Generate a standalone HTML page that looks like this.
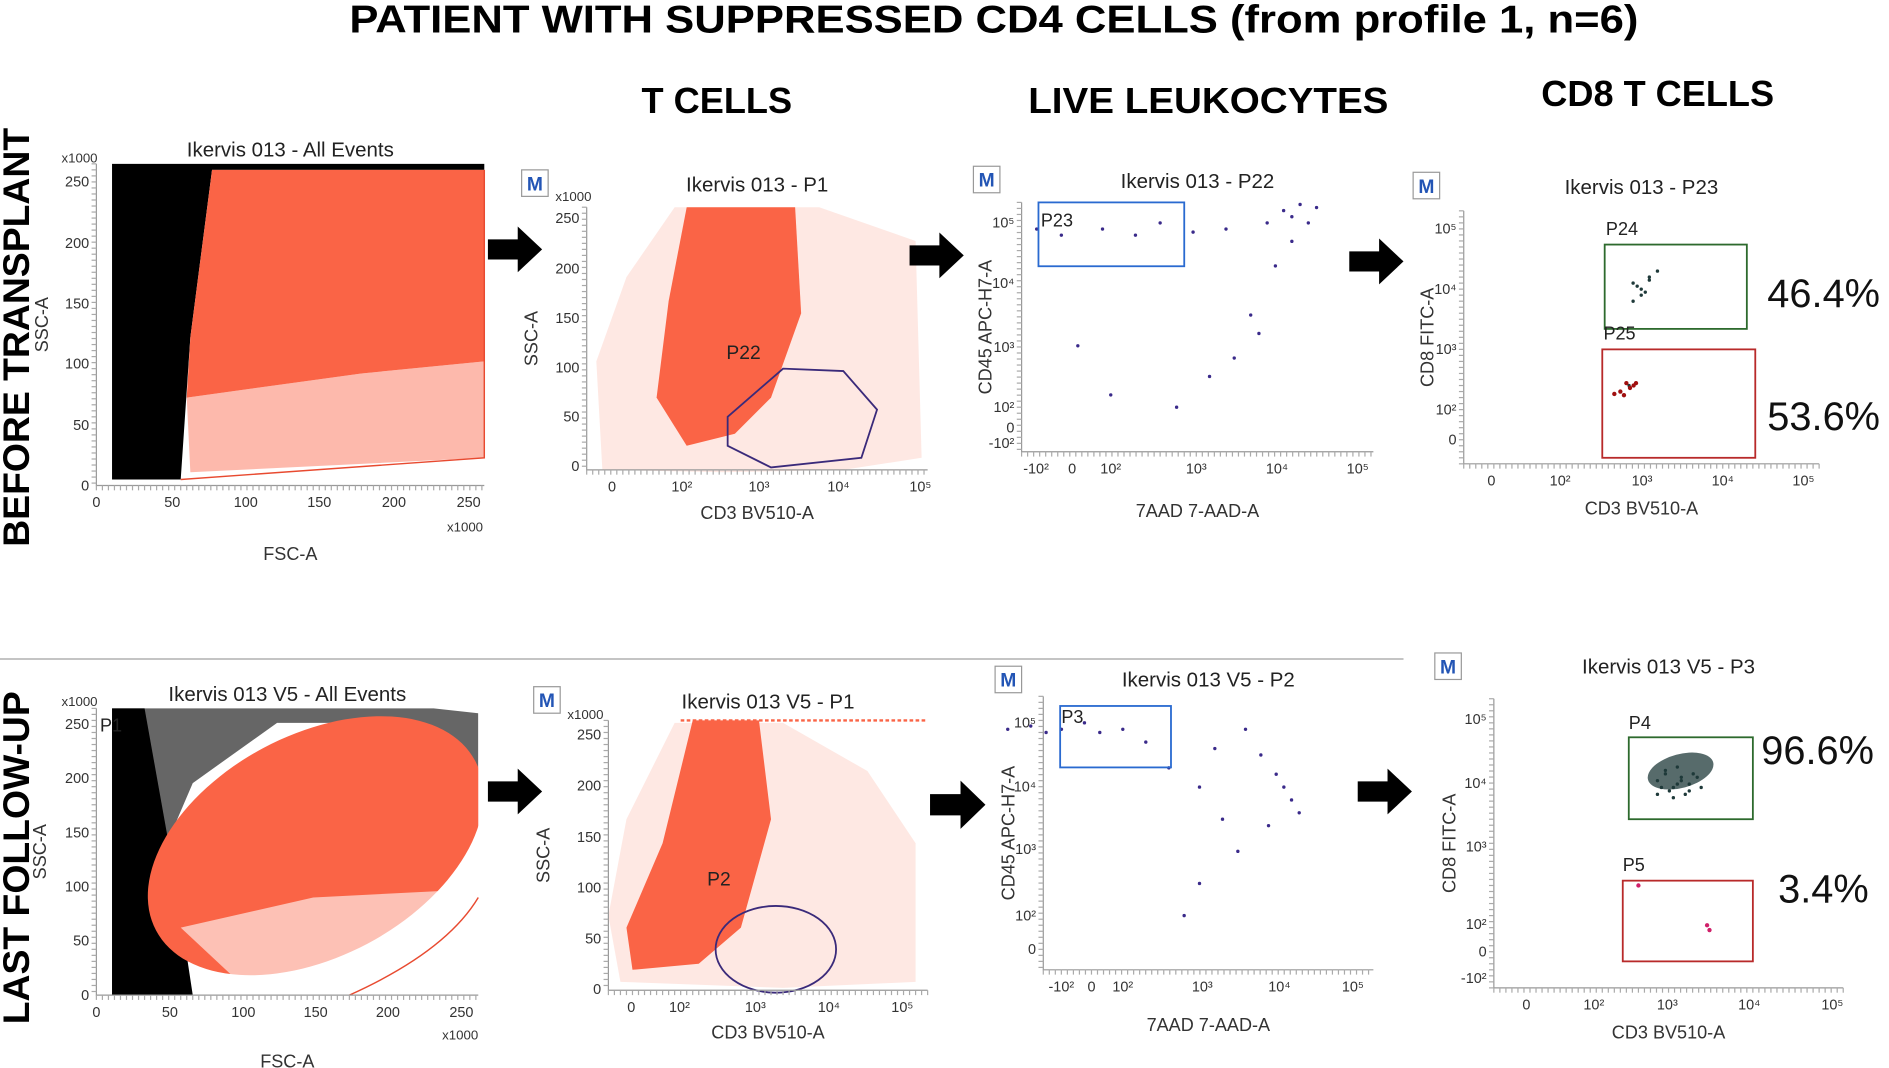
<!DOCTYPE html>
<html><head><meta charset="utf-8">
<style>
html,body{margin:0;padding:0;background:#fff;width:1889px;height:1068px;overflow:hidden}
svg{display:block}
text{font-family:"Liberation Sans",sans-serif}
.t{font-size:17px;fill:#222}
.tk{font-size:12px;fill:#333}
.ax{font-size:15px;fill:#333}
.hd{font-size:30px;font-weight:bold;fill:#000}
.pct{font-size:33px;fill:#111}
</style></head>
<body>
<svg id="fig" width="1889" height="1068" viewBox="0 0 1568 886.5" xmlns="http://www.w3.org/2000/svg">
<text x="290" y="27" textLength="1070" lengthAdjust="spacingAndGlyphs" style="font-size:32px;font-weight:bold">PATIENT WITH  SUPPRESSED CD4 CELLS (from profile 1, n=6)</text>
<text class="hd" transform="translate(24,280) rotate(-90)" text-anchor="middle" style="font-size:31px">BEFORE TRANSPLANT</text>
<text class="hd" transform="translate(24,712) rotate(-90)" text-anchor="middle" style="font-size:31px">LAST FOLLOW-UP</text>
<text class="hd" x="595" y="94" text-anchor="middle">T CELLS</text>
<text class="hd" x="1003" y="94" text-anchor="middle" textLength="299" lengthAdjust="spacingAndGlyphs">LIVE LEUKOCYTES</text>
<text class="hd" x="1376" y="88" text-anchor="middle">CD8 T CELLS</text>
<line x1="0" y1="547" x2="1165" y2="547" stroke="#bbb" stroke-width="1.5"/>
<g id="g"></g>
</svg>
<script>
// ---- data arrays ----
const pctTop = ["46.4%","53.6%"];
const pctBot = ["96.6%","3.4%"];
// scatter events (log-decade units)
const p22EventsX = [1.1,1.4,1.9,2.3,2.6,3.0,3.4,3.9,4.1,4.2,4.3,4.4,4.5,4.2,4.0,3.7,3.8,3.5,3.2,2.8,2.0,1.6];
const p22EventsY = [4.9,4.8,4.9,4.8,5.0,4.85,4.9,5.0,5.2,5.1,5.3,5.0,5.25,4.7,4.3,3.5,3.2,2.8,2.5,2.0,2.2,3.0];
const p23EventsX = [2.9,3.0,3.1,3.0,2.95,3.05,3.2,3.1,2.9,2.85];
const p23EventsY = [4.1,4.0,4.2,3.9,4.05,3.95,4.3,4.15,3.8,2.4];
const p2EventsX = [0.5,0.8,1.2,1.5,1.7,2.0,2.3,2.6,3.0,3.3,3.5,3.8,4.0,4.2,3.9,3.6,3.2,3.0,2.8,4.1,4.3,1.0];
const p2EventsY = [4.9,4.95,4.9,5.0,4.85,4.9,4.7,4.3,4.0,3.5,3.0,4.5,4.2,3.8,3.4,4.9,4.6,2.5,2.0,4.0,3.6,4.85];
const p3EventsX = [2.8,2.9,3.0,3.1,3.2,2.95,3.05,3.15,2.85,3.25,3.0,3.1,2.9,3.2,3.3,3.05,2.8,3.35];
const p3EventsY = [4.1,4.2,4.0,4.15,4.05,3.95,4.3,3.9,4.0,4.2,3.85,4.1,4.25,3.95,4.15,4.05,3.9,4.0];

const NS="http://www.w3.org/2000/svg";
const G=document.getElementById('g');
function el(tag,attrs,txt,parent){const e=document.createElementNS(NS,tag);for(const k in attrs)e.setAttribute(k,attrs[k]);if(txt!=null)e.textContent=txt;(parent||G).appendChild(e);return e;}
function lin(d0,d1,r0,r1){return v=>r0+(v-d0)*(r1-r0)/(d1-d0);}

function mbox(x,y){
  const r=el('rect',{x:x,y:y,width:22,height:22,fill:'#fff',stroke:'#999'});
  
  
  const t=el('text',{x:x+11,y:y+17,'text-anchor':'middle',style:'font-size:16px;font-weight:bold;fill:#2355b5'},'M');
  
  
}
function arrow(x,y,w,h){
  const p=el('polygon',{points:`${x},${y+h*0.28} ${x+w*0.55},${y+h*0.28} ${x+w*0.55},${y} ${x+w},${y+h/2} ${x+w*0.55},${y+h} ${x+w*0.55},${y+h*0.72} ${x},${y+h*0.72}`,fill:'#000'});
  
  
}
function axes(x0,x1,y0,y1,xt,yt,xlab,ylab,xlabY,ylabX,title,titleY){
  const a=el('path',{d:`M${x0},${y0} V${y1} H${x1}`,fill:'none',stroke:'#999'});
  
  
  for(let i=x0;i<=x1;i+=5){el('line',{x1:i,y1:y1,x2:i,y2:y1+4,stroke:'#aaa'});}
  for(let i=y0;i<=y1;i+=5){el('line',{x1:x0-4,y1:i,x2:x0,y2:i,stroke:'#aaa'});}
  xt.forEach(([p,l])=>{const t=el('text',{x:p,y:y1+18,'text-anchor':'middle',class:'tk'},l);});
  yt.forEach(([p,l])=>{const t=el('text',{x:x0-6,y:p+4,'text-anchor':'end',class:'tk'},l);});
  const xl=el('text',{x:(x0+x1)/2,y:xlabY,'text-anchor':'middle',class:'ax'},xlab);
  
  
  const yl=el('text',{transform:`translate(${ylabX},${(y0+y1)/2}) rotate(-90)`,'text-anchor':'middle',class:'ax'},ylab);
  
  
  const tt=el('text',{x:(x0+x1)/2,y:titleY,'text-anchor':'middle',class:'t'},title);
  
  
}
function dots(xs,ys,fx,fy,col,name){
  xs.forEach((v,i)=>{const c=el('circle',{cx:fx(v),cy:fy(ys[i]),r:1.4,fill:col});
    
    });
}
function shape(tag,attrs,name){const e=el(tag,attrs);return e;}

// ===== TOP ROW =====
shape('polygon',{points:'93,136 402,136 402,141 176,141 158,280 150,398 93,398',fill:'#000'},'debris-events');
shape('polygon',{points:'176,141 402,141 402,300 300,310 155,330 158,280',fill:'#fa6446'},'p1-event-density');
shape('polygon',{points:'155,330 300,310 402,300 402,380 158,392',fill:'#fa6446',opacity:0.45},'p1-event-sparse');
shape('polyline',{points:'150,398 402,380 402,141',fill:'none',stroke:'#e84a30','stroke-width':1.2},'p1-gate');
axes(80,402,136,403,[[80,'0'],[143,'50'],[204,'100'],[265,'150'],[327,'200'],[389,'250']],[[403,'0'],[353,'50'],[302,'100'],[252,'150'],[202,'200'],[151,'250']],'FSC-A','SSC-A',465,40,'Ikervis 013 - All Events',130);
el('text',{x:66,y:135,class:'tk','text-anchor':'middle',style:'font-size:11px'},'x1000');
el('text',{x:386,y:441,class:'tk','text-anchor':'middle',style:'font-size:11px'},'x1000');
arrow(405,188,45,38);
// panel 2
mbox(433,141);
shape('path',{d:'M560,172 L680,172 L760,200 L765,380 L700,390 L600,392 L500,390 L495,300 L520,230 Z',fill:'#fa6446',opacity:0.15},'t-cell-scatter-halo');
shape('path',{d:'M570,172 L660,172 L665,260 L640,330 L610,360 L570,370 L545,330 L555,250 Z',fill:'#fa6446'},'t-cell-density');
shape('polygon',{points:'604,346 650,306 700,308 728,340 715,380 640,388 604,370',fill:'none',stroke:'#3a2a7a','stroke-width':1.5},'p22-gate');
el('text',{x:603,y:298,class:'t',style:'font-size:16px'},'P22');
axes(487,770,172,390,[[508,'0'],[566,'10²'],[630,'10³'],[696,'10⁴'],[764,'10⁵']],[[387,'0'],[346,'50'],[305,'100'],[264,'150'],[223,'200'],[181,'250']],'CD3 BV510-A','SSC-A',431,446,'Ikervis 013 - P1',159);
el('text',{x:476,y:167,class:'tk','text-anchor':'middle',style:'font-size:11px'},'x1000');
arrow(755,193,45,38);
// panel 3
mbox(808,138);
{const fx=lin(2,5,922,1127), fy=lin(2,5,338,185);
 dots(p22EventsX,p22EventsY,fx,fy,'#3a2a8a','p22-event');}
shape('rect',{x:862,y:168,width:121,height:53,fill:'none',stroke:'#2a6ad0','stroke-width':1.5},'p23-gate');
el('text',{x:864,y:188,class:'t',style:'font-size:15px'},'P23');
axes(848,1140,168,375,[[860,'-10²'],[890,'0'],[922,'10²'],[993,'10³'],[1060,'10⁴'],[1127,'10⁵']],[[185,'10⁵'],[235,'10⁴'],[288,'10³'],[338,'10²'],[355,'0'],[368,'-10²']],'7AAD 7-AAD-A','CD45 APC-H7-A',429,823,'Ikervis 013 - P22',156);
arrow(1120,198,45,38);
// panel 4
mbox(1173,143);
{const fx=lin(2,5,1295,1497), fy=lin(2,5,340,190);
 dots(p23EventsX,p23EventsY,fx,fy,'#1f3a3a','p24-event');}
shape('rect',{x:1332,y:203,width:118,height:70,fill:'none',stroke:'#2d6a2d','stroke-width':1.5},'p24-gate');
shape('rect',{x:1330,y:290,width:127,height:90,fill:'none',stroke:'#b82a2a','stroke-width':1.5},'p25-gate');
[[1340,327],[1345,325],[1350,318],[1353,322],[1356,320],[1348,328],[1358,318]].forEach(([x,y])=>{const c=el('circle',{cx:x,cy:y,r:1.8,fill:'#a01010'});});
el('text',{x:1333,y:195,class:'t',style:'font-size:15px'},'P24');
el('text',{x:1331,y:282,class:'t',style:'font-size:15px'},'P25');
axes(1215,1510,175,385,[[1238,'0'],[1295,'10²'],[1363,'10³'],[1430,'10⁴'],[1497,'10⁵']],[[190,'10⁵'],[240,'10⁴'],[290,'10³'],[340,'10²'],[365,'0']],'CD3 BV510-A','CD8 FITC-A',427,1190,'Ikervis 013 - P23',161);
{const t=el('text',{x:1467,y:255,class:'pct'},pctTop[0]);
 const u=el('text',{x:1467,y:357,class:'pct'},pctTop[1]);}

// ===== BOTTOM ROW =====
shape('polygon',{points:'93,588 360,588 397,592 397,640 330,600 230,600 160,650 130,720 125,826 93,826',fill:'#000',opacity:0.6},'debris-events-speckled');
shape('polygon',{points:'93,588 120,588 140,700 150,760 160,826 93,826',fill:'#000'},'debris-events-followup');
shape('ellipse',{cx:262,cy:702,rx:150,ry:92,transform:'rotate(-28 262 702)',fill:'#fa6446'},'p1-event-density-followup');
shape('rect',{x:397,y:580,width:20,height:260,fill:'#fff'},'plot-mask');
shape('polygon',{points:'150,770 260,745 397,738 397,800 300,826 210,826',fill:'#fff',opacity:0.6},'p1-event-sparse-followup');
shape('path',{d:'M290,826 Q370,790 397,745',fill:'none',stroke:'#e84a30','stroke-width':1.2},'p1-gate-followup');
el('text',{x:83,y:607,class:'t',style:'font-size:15px'},'P1');
axes(80,397,588,826,[[80,'0'],[141,'50'],[202,'100'],[262,'150'],[322,'200'],[383,'250']],[[826,'0'],[781,'50'],[736,'100'],[691,'150'],[646,'200'],[601,'250']],'FSC-A','SSC-A',886,38,'Ikervis 013 V5 - All Events',582);
el('text',{x:66,y:586,class:'tk','text-anchor':'middle',style:'font-size:11px'},'x1000');
el('text',{x:382,y:863,class:'tk','text-anchor':'middle',style:'font-size:11px'},'x1000');
arrow(405,638,45,38);
// panel 2 bottom
mbox(443,570);
shape('path',{d:'M560,600 L650,600 L720,640 L760,700 L760,815 L650,820 L515,815 L505,760 L520,680 Z',fill:'#fa6446',opacity:0.15},'t-cell-scatter-halo-followup');
shape('path',{d:'M575,598 L630,598 L640,680 L615,770 L580,800 L525,805 L520,770 L550,700 Z',fill:'#fa6446'},'t-cell-density-followup');
shape('line',{x1:565,y1:598,x2:770,y2:598,stroke:'#fa6446','stroke-width':2,'stroke-dasharray':'3 2'},'saturated-events');
shape('ellipse',{cx:644,cy:788,rx:50,ry:36,fill:'none',stroke:'#3a2a7a','stroke-width':1.5},'p2-gate');
el('text',{x:587,y:735,class:'t',style:'font-size:16px'},'P2');
axes(505,770,598,822,[[524,'0'],[564,'10²'],[627,'10³'],[688,'10⁴'],[749,'10⁵']],[[821,'0'],[779,'50'],[737,'100'],[695,'150'],[652,'200'],[610,'250']],'CD3 BV510-A','SSC-A',862,456,'Ikervis 013 V5 - P1',588);
el('text',{x:486,y:597,class:'tk','text-anchor':'middle',style:'font-size:11px'},'x1000');
arrow(772,648,46,40);
// panel 3 bottom
mbox(826,553);
{const fx=lin(2,5,932,1123), fy=lin(2,5,760,600);
 dots(p2EventsX,p2EventsY,fx,fy,'#3a2a8a','p2-event');}
shape('rect',{x:880,y:586,width:92,height:51,fill:'none',stroke:'#2a6ad0','stroke-width':1.5},'p3-gate');
el('text',{x:881,y:600,class:'t',style:'font-size:15px'},'P3');
axes(866,1140,578,805,[[881,'-10²'],[906,'0'],[932,'10²'],[998,'10³'],[1062,'10⁴'],[1123,'10⁵']],[[600,'10⁵'],[653,'10⁴'],[705,'10³'],[760,'10²'],[788,'0']],'7AAD 7-AAD-A','CD45 APC-H7-A',856,842,'Ikervis 013 V5 - P2',570);
arrow(1127,638,45,38);
// panel 4 bottom
mbox(1191,542);
{const fx=lin(2,5,1323,1521), fy=lin(2,5,767,597);
 dots(p3EventsX,p3EventsY,fx,fy,'#1f3a3a','p4-event');}
shape('ellipse',{cx:1395,cy:640,rx:28,ry:14,transform:'rotate(-15 1395 640)',fill:'#1f3a3a',opacity:0.75},'p4-event-cluster');
shape('rect',{x:1352,y:612,width:103,height:68,fill:'none',stroke:'#2d6a2d','stroke-width':1.5},'p4-gate');
shape('rect',{x:1347,y:731,width:108,height:67,fill:'none',stroke:'#b82a2a','stroke-width':1.5},'p5-gate');
el('text',{x:1352,y:605,class:'t',style:'font-size:15px'},'P4');
el('text',{x:1347,y:723,class:'t',style:'font-size:15px'},'P5');
[[1360,735],[1417,768],[1419,772]].forEach(([x,y])=>{const c=el('circle',{cx:x,cy:y,r:1.8,fill:'#d0206a'});});
axes(1240,1530,580,820,[[1267,'0'],[1323,'10²'],[1384,'10³'],[1452,'10⁴'],[1521,'10⁵']],[[597,'10⁵'],[650,'10⁴'],[703,'10³'],[767,'10²'],[790,'0'],[812,'-10²']],'CD3 BV510-A','CD8 FITC-A',862,1208,'Ikervis 013 V5 - P3',559);
{const t=el('text',{x:1462,y:634,class:'pct'},pctBot[0]);
 const u=el('text',{x:1476,y:749,class:'pct'},pctBot[1]);}
</script>
</body></html>
